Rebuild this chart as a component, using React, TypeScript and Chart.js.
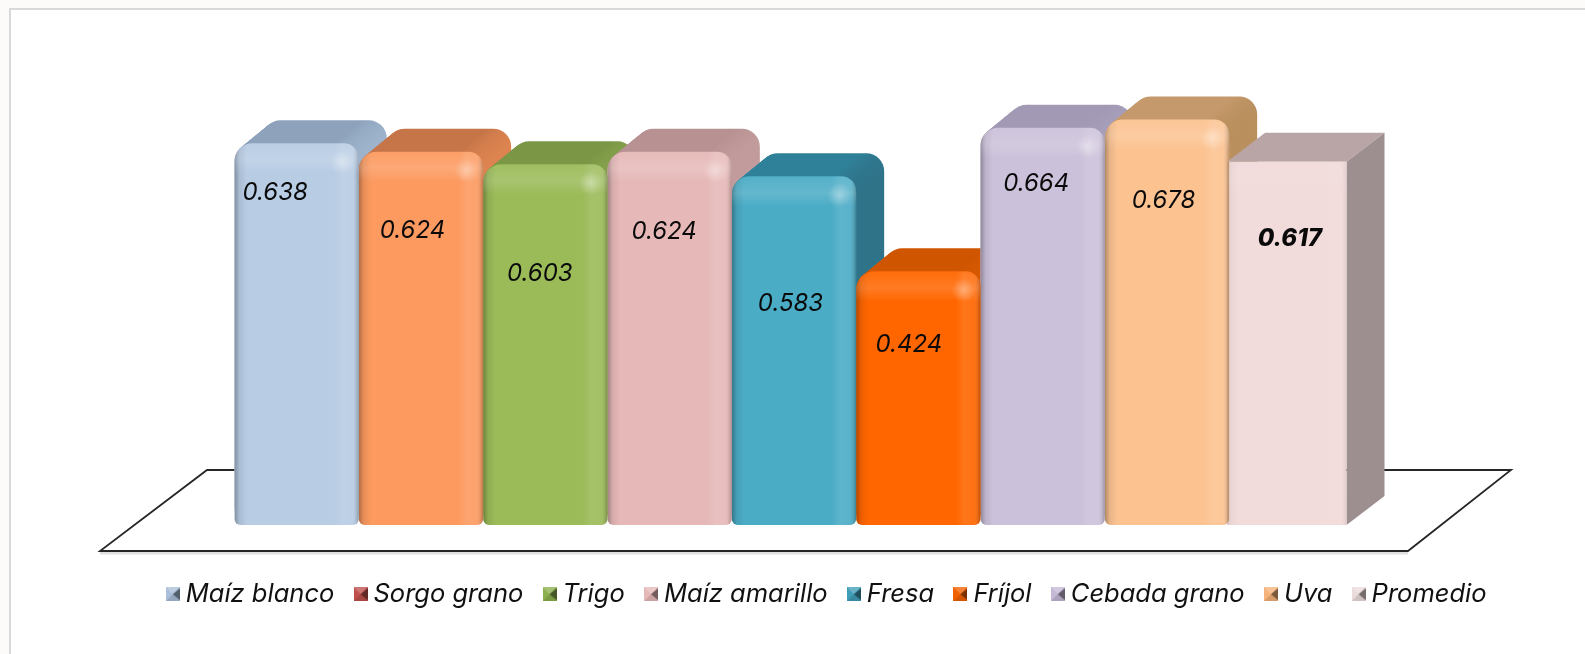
import React, { useEffect, useRef } from "react";
import { Chart, registerables } from "chart.js";

Chart.register(...registerables);

const categories = ["Costo"];
const seriesNames = ["Maíz blanco", "Sorgo grano", "Trigo", "Maíz amarillo", "Fresa", "Fríjol", "Cebada grano", "Uva", "Promedio"];
const seriesValues = [0.638, 0.624, 0.603, 0.624, 0.583, 0.424, 0.664, 0.678, 0.617];
const frontColors = ["#B8CCE4", "#FC9A60", "#9BBB59", "#E6B9B8", "#4BACC6", "#FF6600", "#CCC1DA", "#FCC391", "#F2DCDB"];
const topColors = ["#8EA2BC", "#C67548", "#7B9746", "#B89292", "#2F8199", "#CF5500", "#A299B4", "#C6996C", "#B9A5A6"];
const sideColors = ["#9DB4CC", "#DD8450", "#86A34C", "#C29C9C", "#2F7389", "#D85A00", "#A79FBB", "#B98F5E", "#9D8F90"];
const legendColors = ["#A9BFDA", "#C0504D", "#8DB04E", "#E6B9B8", "#3F9DB8", "#F26100", "#C4B8D6", "#F5B27A", "#EBDCDB"];
const labelDrop = [49, 79, 110, 80, 128, 73, 56, 81, 77];
const labelShift = [-21.5, -8.5, -5.5, -5.5, -3.5, -9.5, -6.5, -3.5, 3];
const boldSeries = [false, false, false, false, false, false, false, false, true];
const squareSeries = [false, false, false, false, false, false, false, false, true];

const FONT = "Inter, 'Open Sans', sans-serif";
const DX = 28;
const DY = 23;
const SQUARE_DX = 38;
const SQUARE_DY = 29;
const SQUARE_NUDGE = 4.5;
const RADIUS = 18;
const CORNERS = { topLeft: RADIUS, topRight: 15, bottomLeft: 6, bottomRight: 6 };
const CORNER_LIST = [CORNERS.topLeft, CORNERS.topRight, CORNERS.bottomRight, CORNERS.bottomLeft];

function legendIcon(color: string) {
  const c = document.createElement("canvas");
  c.width = 14;
  c.height = 14;
  const g = c.getContext("2d")!;
  g.fillStyle = color;
  g.fillRect(0, 0, 14, 14);
  g.fillStyle = "rgba(255,255,255,0.22)";
  g.beginPath();
  g.moveTo(0, 0);
  g.lineTo(14, 0);
  g.lineTo(7, 7);
  g.fill();
  g.fillStyle = "rgba(0,0,0,0.5)";
  g.beginPath();
  g.moveTo(14, 1);
  g.lineTo(7, 7);
  g.lineTo(14, 13);
  g.fill();
  g.fillStyle = "rgba(0,0,0,0.12)";
  g.beginPath();
  g.moveTo(0, 14);
  g.lineTo(14, 14);
  g.lineTo(7, 7);
  g.fill();
  return c;
}

const panelPlugin = {
  id: "panel",
  beforeInit(chart: any) {
    chart.ctx.letterSpacing = "0.75px";
  },
  afterDatasetsUpdate(chart: any) {
    squareSeries.forEach((square, i) => {
      if (square) chart.getDatasetMeta(i).data[0].x -= SQUARE_NUDGE;
    });
  },
  beforeDraw(chart: any) {
    const { ctx, width, height } = chart;
    ctx.save();
    ctx.fillStyle = "#FDFBF9";
    ctx.fillRect(0, 0, width, height);
    ctx.fillStyle = "#FFFFFF";
    ctx.fillRect(10, 9, width - 10, height - 9);
    ctx.strokeStyle = "#D9D9D9";
    ctx.lineWidth = 2;
    ctx.beginPath();
    ctx.moveTo(10, height);
    ctx.lineTo(10, 9);
    ctx.lineTo(width, 9);
    ctx.stroke();
    ctx.restore();
  },
};

const legendShiftPlugin = {
  id: "legendShift",
  afterLayout(chart: any) {
    chart.legend.left += 35.5;
    chart.legend.right += 35.5;
  },
};

const floorPlugin = {
  id: "floor",
  beforeDatasetsDraw(chart: any) {
    const { ctx } = chart;
    const base = chart.scales.y.getPixelForValue(0);
    ctx.save();
    ctx.strokeStyle = "rgba(0,0,0,0.12)";
    ctx.lineWidth = 3;
    ctx.beginPath();
    ctx.moveTo(100, base + 28);
    ctx.lineTo(1408, base + 28);
    ctx.stroke();
    ctx.strokeStyle = "#262626";
    ctx.lineWidth = 1.8;
    ctx.lineJoin = "miter";
    ctx.beginPath();
    ctx.moveTo(207, base - 55);
    ctx.lineTo(1511, base - 55);
    ctx.lineTo(1408, base + 26);
    ctx.lineTo(100, base + 26);
    ctx.closePath();
    ctx.stroke();
    ctx.restore();
  },
};

const depthPlugin = {
  id: "depth",
  beforeDatasetsDraw(chart: any) {
    const { ctx } = chart;
    seriesValues.forEach((_, i) => {
      const bar = chart.getDatasetMeta(i).data[0];
      const left = bar.x - bar.width / 2;
      const right = bar.x + bar.width / 2;
      const top = bar.y;
      const base = bar.base;
      ctx.save();
      if (squareSeries[i]) {
        ctx.fillStyle = topColors[i];
        ctx.beginPath();
        ctx.moveTo(left, top);
        ctx.lineTo(left + SQUARE_DX, top - SQUARE_DY);
        ctx.lineTo(right + SQUARE_DX, top - SQUARE_DY);
        ctx.lineTo(right, top);
        ctx.closePath();
        ctx.fill();
        ctx.fillStyle = sideColors[i];
        ctx.beginPath();
        ctx.moveTo(right, top);
        ctx.lineTo(right + SQUARE_DX, top - SQUARE_DY);
        ctx.lineTo(right + SQUARE_DX, base - SQUARE_DY);
        ctx.lineTo(right, base);
        ctx.closePath();
        ctx.fill();
      } else {
        const steps = 30;
        for (let s = steps; s >= 0; s--) {
          const t = s / steps;
          const ox = DX * t;
          const oy = DY * t;
          const g = ctx.createLinearGradient(left + ox, 0, right + ox, 0);
          g.addColorStop(0, topColors[i]);
          g.addColorStop(0.8, topColors[i]);
          g.addColorStop(1, sideColors[i]);
          ctx.fillStyle = g;
          ctx.beginPath();
          ctx.roundRect(left + ox, top - oy, right - left, base - top, RADIUS);
          ctx.fill();
        }
      }
      ctx.restore();
    });
  },
};

const bevelPlugin = {
  id: "bevel",
  afterDatasetsDraw(chart: any) {
    const { ctx } = chart;
    seriesValues.forEach((v, i) => {
      const bar = chart.getDatasetMeta(i).data[0];
      const left = bar.x - bar.width / 2;
      const right = bar.x + bar.width / 2;
      const top = bar.y;
      const base = bar.base;
      const w = right - left;
      const square = squareSeries[i];
      ctx.save();
      ctx.beginPath();
      ctx.roundRect(left, top, w, base - top, square ? 1 : CORNER_LIST);
      ctx.clip();
      const strength = square ? 0.3 : 1;
      const h = ctx.createLinearGradient(left, 0, right, 0);
      h.addColorStop(0, `rgba(0,0,0,${0.3 * strength})`);
      h.addColorStop(0.04, `rgba(0,0,0,${0.08 * strength})`);
      h.addColorStop(0.1, "rgba(0,0,0,0)");
      h.addColorStop(0.8, "rgba(255,255,255,0)");
      h.addColorStop(0.87, `rgba(255,255,255,${0.1 * strength})`);
      h.addColorStop(0.95, `rgba(255,255,255,${0.08 * strength})`);
      h.addColorStop(1, `rgba(0,0,0,${0.25 * strength})`);
      ctx.fillStyle = h;
      ctx.fillRect(left, top, w, base - top);
      const vg = ctx.createLinearGradient(0, top, 0, top + 30);
      vg.addColorStop(0, `rgba(255,255,255,${0.04 * strength})`);
      vg.addColorStop(0.55, `rgba(255,255,255,${0.14 * strength})`);
      vg.addColorStop(1, "rgba(255,255,255,0)");
      ctx.fillStyle = vg;
      ctx.fillRect(left, top, w, 30);
      if (!square) {
        const sx = right - 17;
        const sy = top + 19;
        const spot = ctx.createRadialGradient(sx, sy, 0, sx, sy, 12);
        spot.addColorStop(0, "rgba(255,255,255,0.32)");
        spot.addColorStop(1, "rgba(255,255,255,0)");
        ctx.fillStyle = spot;
        ctx.fillRect(sx - 12, sy - 12, 24, 24);
      }
      ctx.restore();
      ctx.save();
      ctx.fillStyle = "#0A0A0A";
      ctx.textAlign = "center";
      ctx.textBaseline = "middle";
      ctx.letterSpacing = "0px";
      ctx.font = `italic ${boldSeries[i] ? 800 : 400} 24px ${FONT}`;
      ctx.fillText(v.toFixed(3), bar.x + labelShift[i], top + labelDrop[i]);
      ctx.restore();
    });
  },
};

export default function App() {
  const ref = useRef<HTMLCanvasElement>(null);

  useEffect(() => {
    const chart = new Chart(ref.current!, {
      type: "bar",
      data: {
        labels: categories,
        datasets: seriesNames.map((name, i) => ({
          label: name,
          data: [seriesValues[i]],
          backgroundColor: frontColors[i],
          borderWidth: 0,
          borderSkipped: false,
          borderRadius: squareSeries[i] ? 0 : CORNERS,
          categoryPercentage: 1119 / 1568,
          barPercentage: squareSeries[i] ? 0.96 : 1,
          yAxisID: squareSeries[i] ? "y2" : "y",
        })),
      },
      options: {
        responsive: false,
        animation: false,
        events: [],
        layout: { padding: { left: 10, right: 7, top: 46.4, bottom: 37 } },
        scales: {
          x: {
            display: true,
            grid: { display: false },
            border: { display: false },
            ticks: { display: false },
            afterFit(axis: any) {
              axis.height = 30.5;
            },
          },
          y: { display: false, min: 0, max: 0.8 },
          y2: { display: false, min: 0, max: 0.8128 },
        },
        plugins: {
          tooltip: { enabled: false },
          legend: {
            position: "bottom",
            labels: {
              usePointStyle: true,
              pointStyleWidth: 0.5,
              color: "#111111",
              padding: 26,
              font: { family: FONT, size: 25.5, style: "italic", weight: "400" },
              generateLabels() {
                return seriesNames.map((name, i) => ({
                  text: name,
                  pointStyle: legendIcon(legendColors[i]),
                  fontColor: "#111111",
                  datasetIndex: i,
                  lineWidth: 0,
                  hidden: false,
                })) as any;
              },
            },
          },
        },
      },
      plugins: [panelPlugin, legendShiftPlugin, floorPlugin, depthPlugin, bevelPlugin],
    } as any);
    return () => chart.destroy();
  }, []);

  return (
    <div style={{ position: "fixed", left: 0, top: 0, width: 1585, height: 654, background: "#fff", overflow: "hidden" }}>
      <canvas ref={ref} width={1585} height={654} style={{ display: "block" }} />
    </div>
  );
}
